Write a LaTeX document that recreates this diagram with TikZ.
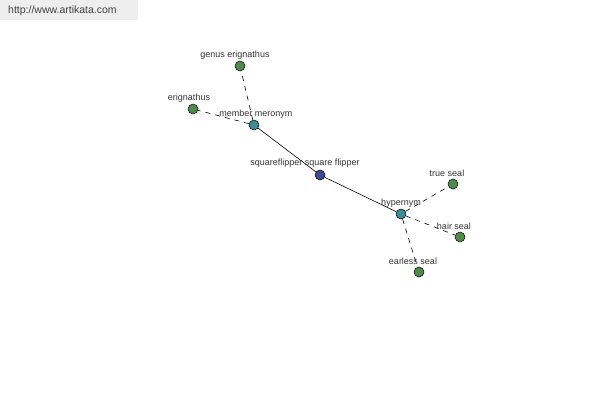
\documentclass[tikz,border=0pt]{standalone}
\usepackage{fontspec}
\setmainfont{Liberation Sans}
\usepackage{tikz}
\usetikzlibrary{positioning}
\definecolor{leafgreen}{HTML}{4F8A4A}
\definecolor{hubteal}{HTML}{3E8C96}
\definecolor{rootblue}{HTML}{414A8E}
\definecolor{labelgray}{HTML}{333333}
\definecolor{markbg}{HTML}{EEEEEE}

\begin{document}
\begin{tikzpicture}[x=1pt,y=-1pt,
  dot/.style={circle,draw=black,line width=0.5pt,inner sep=0pt,minimum size=10pt},
  l/.style={dot,fill=leafgreen},
  h/.style={dot,fill=hubteal},
  r/.style={dot,fill=rootblue},
  lab/.style={font=\fontsize{9}{10}\selectfont,text=labelgray,inner sep=0pt},
  rel/.style={line width=0.6pt,dash pattern=on 5pt off 5pt}]
\useasboundingbox (0,0) rectangle (600,400);
\fill[markbg] (0,0) rectangle (138,20);
\node[font=\fontsize{10.5}{11}\selectfont,text=black!75,anchor=west,inner sep=0pt] (mark) at (8,11) {http://www.artikata.com};
% nodes
\node[l] (genus) at (240,66) {};
\node[l] (erig) at (193,109) {};
\node[h] (mero) at (254,125) {};
\node[r] (flip) at (320,175) {};
\node[h] (hyper) at (401,214) {};
\node[l] (trueseal) at (453,184) {};
\node[l] (hairseal) at (460,237) {};
\node[l] (earless) at (419,272) {};
% edges
\draw[rel] (mero) -- (genus);
\draw[rel] (mero) -- (erig);
\draw[line width=0.6pt] (mero) -- (flip);
\draw[line width=0.6pt] (flip) -- (hyper);
\draw[rel] (hyper) -- (trueseal);
\draw[rel] (hyper) -- (hairseal);
\draw[rel] (hyper) -- (earless);
% labels
\node[lab] (genuslab) at (235,55) {genus erignathus};
\node[lab] (eriglab) at (189,98) {erignathus};
\node[lab] (merolab) at (256,114) {member meronym};
\node[lab] (fliplab) at (305,163) {squareflipper square flipper};
\node[lab] (hyperlab) at (401,203) {hypernym};
\node[lab] (truelab) at (447,173) {true seal};
\node[lab] (hairlab) at (454,226) {hair seal};
\node[lab] (earlesslab) at (413,261) {earless seal};
\end{tikzpicture}
\end{document}
